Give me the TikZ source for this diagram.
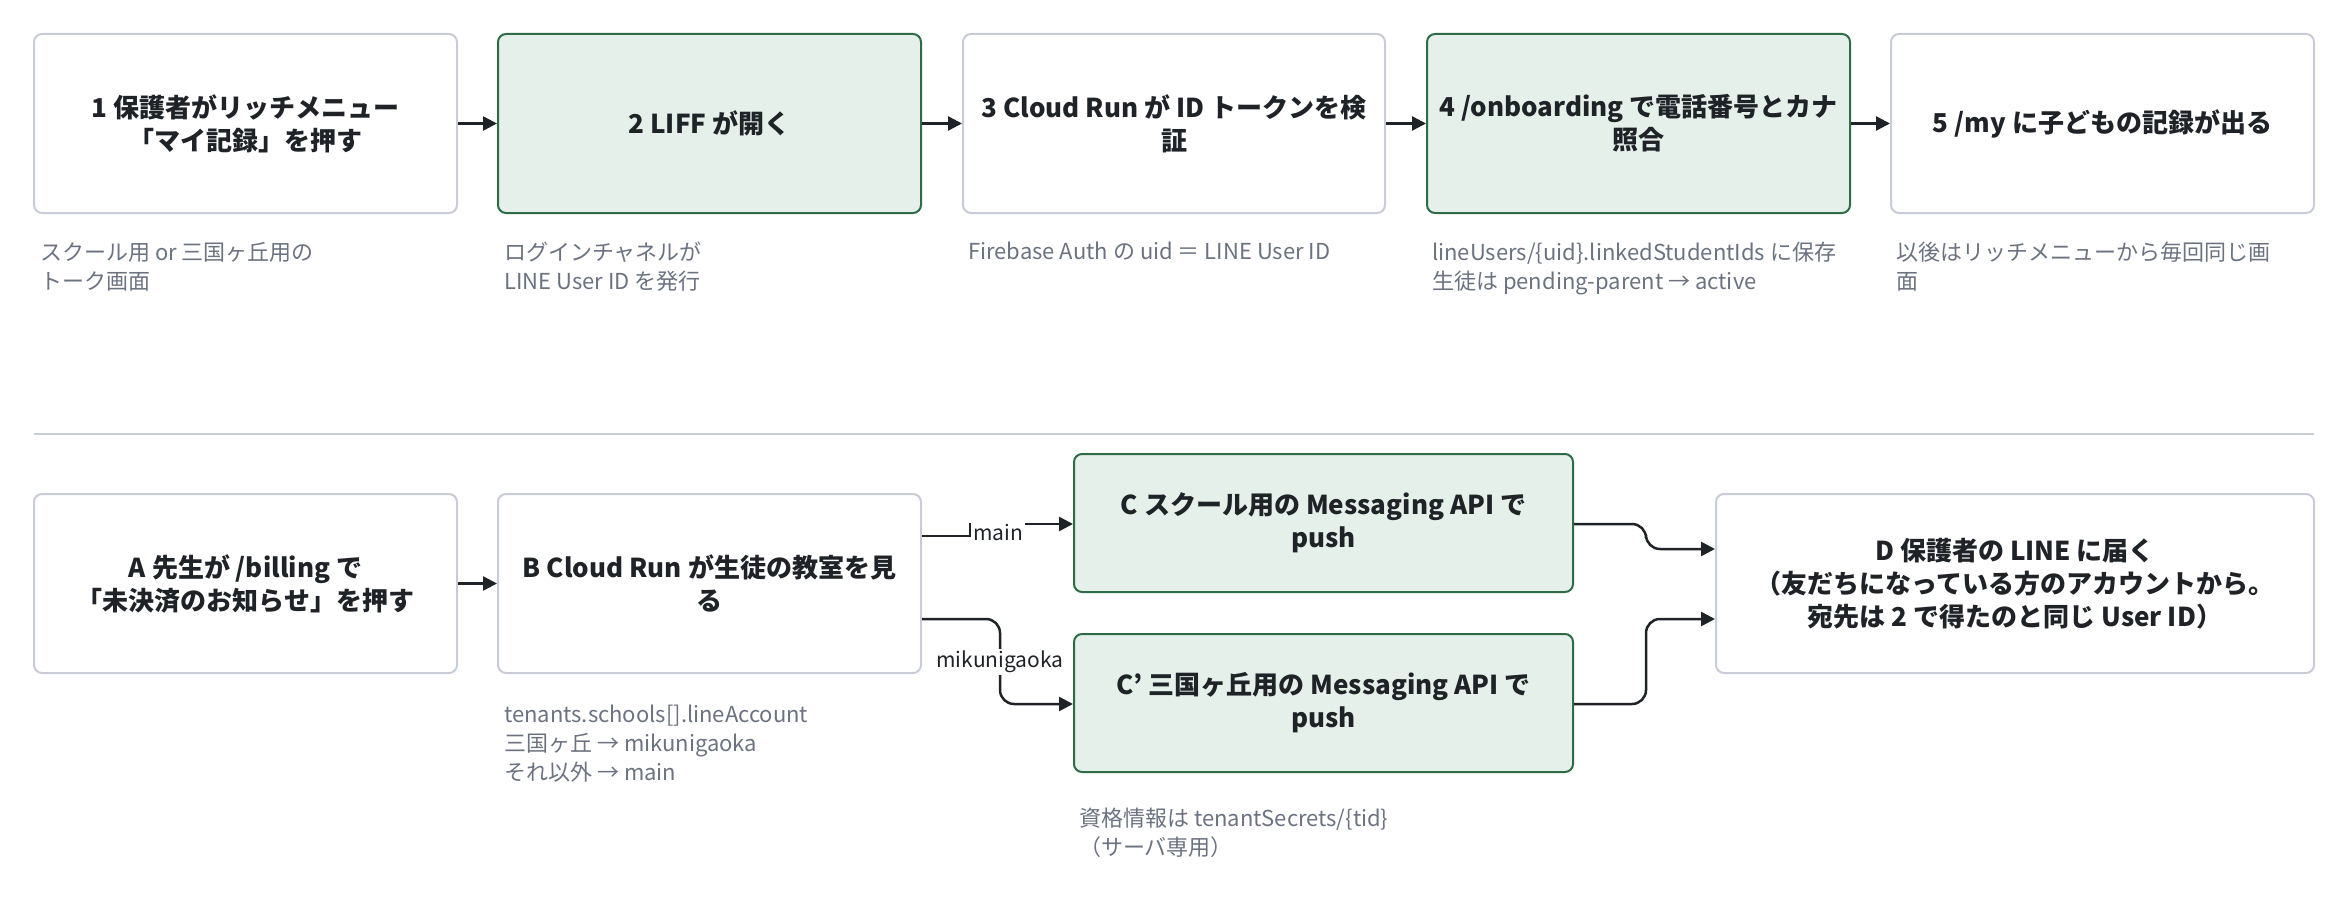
\documentclass[tikz,border=0pt]{standalone}
\usepackage{fontspec}
\setmainfont{Noto Sans CJK JP}
\newfontfamily\jpbold{Noto Sans CJK JP}[FakeBold=0]
\usetikzlibrary{arrows.meta}
\definecolor{gfill}{HTML}{E6F0EA}
\definecolor{gdraw}{HTML}{2E6B47}
\definecolor{wdraw}{HTML}{C8CCD6}
\definecolor{notec}{HTML}{6B7280}
\definecolor{ink}{HTML}{1F2328}
\tikzset{
 box/.style={draw=wdraw,line width=2pt,fill=white,rounded corners=8pt,font=\fontsize{26}{33}\selectfont\bfseries,text=ink,align=center,inner sep=0pt},
 gbox/.style={box,draw=gdraw,fill=gfill},
 note/.style={anchor=north west,align=left,text=notec,font=\fontsize{22}{29}\selectfont,inner sep=0pt},
 conn/.style={draw=ink,line width=2.5pt,-{Triangle[length=14pt,width=14pt]},rounded corners=14pt},
 lbl/.style={fill=white,font=\fontsize{21}{24}\selectfont,text=ink,inner sep=2pt}
}
\begin{document}
\begin{tikzpicture}[x=1pt,y=-1pt]
\useasboundingbox (0,0) rectangle (2333,912);
% top row
\node[box,minimum width=423pt,minimum height=179pt] (n1) at (245.5,123.5) {1 保護者がリッチメニュー\\「マイ記録」を押す};
\node[gbox,minimum width=423pt,minimum height=179pt] (n2) at (709.5,123.5) {2 LIFF が開く};
\node[box,minimum width=422pt,minimum height=179pt] (n3) at (1174,123.5) {3 Cloud Run が ID トークンを検\\証};
\node[gbox,minimum width=423pt,minimum height=179pt] (n4) at (1638.5,123.5) {4 /onboarding で電話番号とカナ\\照合};
\node[box,minimum width=423pt,minimum height=179pt] (n5) at (2102.5,123.5) {5 /my に子どもの記録が出る};
\draw[conn] (n1) -- (n2);
\draw[conn] (n2) -- (n3);
\draw[conn] (n3) -- (n4);
\draw[conn] (n4) -- (n5);
\node[note] (t1) at (40,242) {スクール用 or 三国ヶ丘用の\\トーク画面};
\node[note] (t2) at (504,242) {ログインチャネルが\\LINE User ID を発行};
\node[note] (t3) at (968,242) {Firebase Auth の uid ＝ LINE User ID};
\node[note] (t4) at (1432,242) {lineUsers/\{uid\}.linkedStudentIds に保存\\生徒は pending-parent → active};
\node[note] (t5) at (1896,242) {以後はリッチメニューから毎回同じ画\\面};
% separator
\coordinate (s1) at (34,434);
\coordinate (s2) at (2314,434);
\draw[wdraw,line width=2pt] (s1) -- (s2);
% bottom row
\node[box,minimum width=423pt,minimum height=179pt] (a) at (245.5,583.5) {A 先生が /billing で\\「未決済のお知らせ」を押す};
\node[box,minimum width=423pt,minimum height=179pt] (b) at (709.5,583.5) {B Cloud Run が生徒の教室を見\\る};
\node[gbox,minimum width=499pt,minimum height=138pt] (c) at (1323.5,523) {C スクール用の Messaging API で\\push};
\node[gbox,minimum width=499pt,minimum height=138pt] (cp) at (1323.5,703) {C' 三国ヶ丘用の Messaging API で\\push};
\node[box,minimum width=598pt,minimum height=179pt] (d) at (2015,583.5) {D 保護者の LINE に届く\\（友だちになっている方のアカウントから。\\宛先は 2 で得たのと同じ User ID）};
\draw[conn] (a) -- (b);
\draw[conn,rounded corners=0pt] (b.east|-0,536) -- (970,536) -- (970,524) -- (c.west|-0,524);
\node[lbl] at (998,532) {main};
\draw[conn] (b.east|-0,619) -| (1000,704) -- (cp.west|-0,704);
\node[lbl] at (1000,662) {mikunigaoka};
\draw[conn] (c.east|-0,524) -| (1646,549) -- (d.west|-0,549);
\draw[conn] (cp.east|-0,704) -| (1646,619) -- (d.west|-0,619);
\node[note] (tb) at (504,705) {tenants.schools[].lineAccount\\三国ヶ丘 → mikunigaoka\\それ以外 → main};
\node[note] (tc) at (1079,808) {資格情報は tenantSecrets/\{tid\}\\（サーバ専用）};
\end{tikzpicture}
\end{document}
